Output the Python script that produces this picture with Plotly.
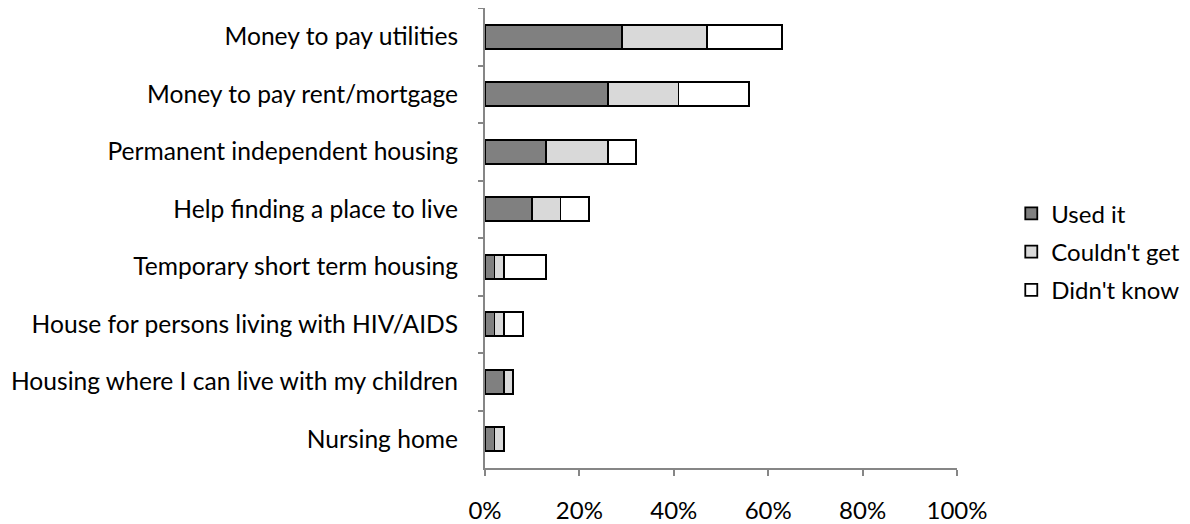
import plotly.graph_objects as go

categories = ["Money to pay utilities", "Money to pay rent/mortgage", "Permanent independent housing",
              "Help finding a place to live", "Temporary short term housing",
              "House for persons living with HIV/AIDS", "Housing where I can live with my children",
              "Nursing home"]
used_it = [29, 26, 13, 10, 2, 2, 4, 2]
couldnt_get = [18, 15, 13, 6, 2, 2, 2, 2]
didnt_know = [16, 15, 6, 6, 9, 4, 0, 0]
series_names = ["Used it", "Couldn't get", "Didn't know"]
colors = ["#808080", "#d9d9d9", "#ffffff"]

fig = go.Figure()
for i, (name, vals) in enumerate(zip(series_names, [used_it, couldnt_get, didnt_know])):
    fig.add_trace(go.Bar(
        y=categories, x=vals, name=name, orientation="h",
        marker=dict(color=colors[i], line=dict(color="#000000", width=1.8)),
        legendgroup=name,
    ))

fig.update_layout(
    barmode="stack", bargap=0.58,
    width=1190, height=524,
    margin=dict(l=477, r=241, t=0, b=64, autoexpand=False),
    paper_bgcolor="white", plot_bgcolor="white",
    font=dict(family="Lato, Carlito, sans-serif", size=24, color="#000000"),
    showlegend=True,
    legend=dict(x=1.115, y=0.47, xanchor="left", yanchor="middle",
                tracegroupgap=4, font=dict(size=24), itemwidth=30),
)
fig.update_xaxes(range=[0, 100], tickvals=[0, 20, 40, 60, 80, 100],
                 ticktext=["0%", "20%", "40%", "60%", "80%", "100%"],
                 showgrid=False, zeroline=False, showline=True, linecolor="#868686", linewidth=2,
                 ticks="outside", ticklen=6, tickcolor="#868686", tickwidth=2,
                 ticklabelstandoff=14, automargin=False)
fig.update_yaxes(autorange="reversed", showgrid=False, showline=True, linecolor="#868686", linewidth=2,
                 ticks="outside", ticklen=5, tickcolor="#868686", tickwidth=2, tickson="boundaries",
                 ticklabelstandoff=20, automargin=False, tickfont=dict(size=24.6))
fig.write_html("out.html")
